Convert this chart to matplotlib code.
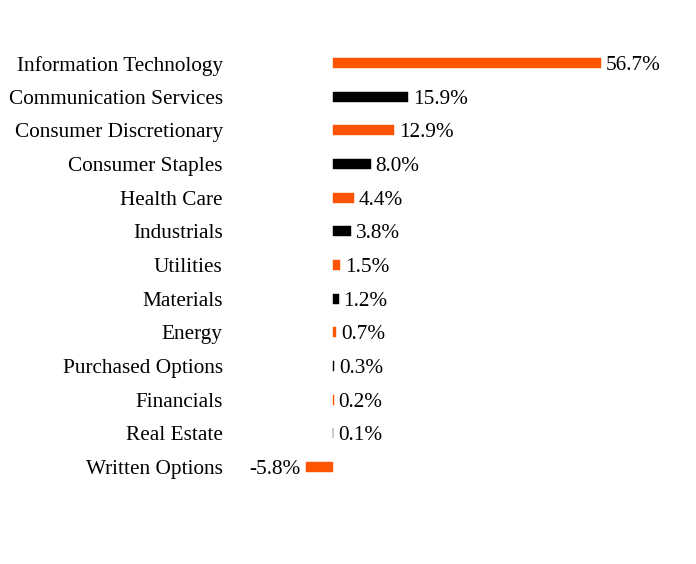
import matplotlib.pyplot as plt
import numpy as np

sectors = ["Information Technology", "Communication Services", "Consumer Discretionary",
           "Consumer Staples", "Health Care", "Industrials", "Utilities", "Materials",
           "Energy", "Purchased Options", "Financials", "Real Estate", "Written Options"]
weights = [56.7, 15.9, 12.9, 8.0, 4.4, 3.8, 1.5, 1.2, 0.7, 0.3, 0.2, 0.1, -5.8]
colors = ["#FF5500", "#000000"] * 6 + ["#FF5500"]

plt.rcParams['font.family'] = ['Liberation Serif', 'DejaVu Serif']

fig = plt.figure(figsize=(6.96, 5.64), dpi=100)
ax = fig.add_axes([0.33, 0.142, 0.65, 0.776])

y = np.arange(len(sectors))
ax.barh(y, weights, height=0.3, color=colors, edgecolor=colors, linewidth=0.3)
ax.set_ylim(len(sectors) - 0.5, -0.5)
ax.set_xlim(-21.85, 73.85)

for yi, w in zip(y, weights):
    if w >= 0:
        ax.text(w + 1.0, yi, f"{w:.1f}%", va='center_baseline', ha='left', fontsize=15.3)
    else:
        ax.text(w - 1.0, yi, f"{w:.1f}%", va='center_baseline', ha='right', fontsize=15.3)

ax.set_yticks(y)
ax.set_yticklabels(sectors, fontsize=15.3, va='center_baseline')
ax.tick_params(axis='y', length=0, pad=5)
ax.set_xticks([])
for s in ax.spines.values():
    s.set_visible(False)

fig.savefig("out.png", dpi=100)
